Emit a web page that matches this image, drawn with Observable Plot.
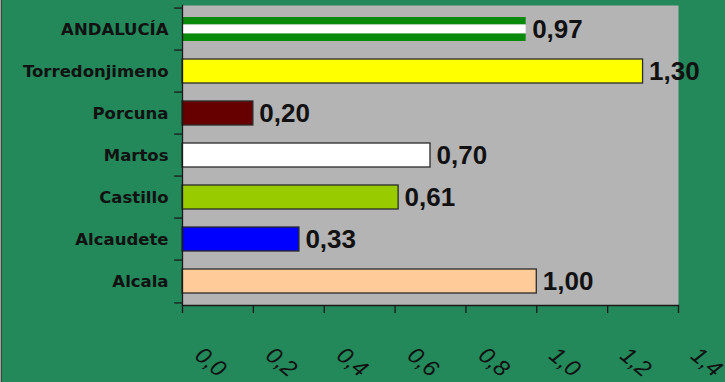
<!DOCTYPE html>
<html>
<head>
<meta charset="utf-8">
<script src="https://cdn.jsdelivr.net/npm/d3@7"></script>
<script src="https://cdn.jsdelivr.net/npm/@observablehq/plot@0.6"></script>
<style>
  html, body { margin: 0; padding: 0; background: #23885a; }
  #chart { position: relative; width: 725px; height: 382px; overflow: hidden; }
  #chart::before { content: ""; position: absolute; left: 0; top: 0; bottom: 0; width: 1px; background: #9aa59f; }
  #chart::after { content: ""; position: absolute; left: 1px; top: 0; bottom: 0; width: 1px; background: #3a4a42; }
  #chart svg { display: block; }
</style>
</head>
<body>
<div id="chart"></div>
<script>
// Municipalities, top to bottom
const places = ["ANDALUCÍA", "Torredonjimeno", "Porcuna", "Martos", "Castillo", "Alcaudete", "Alcala"];
const values = [0.97, 1.30, 0.20, 0.70, 0.61, 0.33, 1.00];
const fills  = ["#008000", "#ffff00", "#660000", "#ffffff", "#99cc00", "#0000ff", "#ffcc99"];
const xTicks = [0, 0.2, 0.4, 0.6, 0.8, 1.0, 1.2, 1.4];

const rows = places.map((p, i) => ({place: p, value: values[i], fill: fills[i]}));
const region = rows.filter(d => d.place === "ANDALUCÍA");
const towns = rows.filter(d => d.place !== "ANDALUCÍA");
const comma = d => d.toFixed(1).replace(".", ",");
const valueFmt = d => d.toFixed(2).replace(".", ",");

const step = (382 - 5 - 77) / places.length; // band step in px

const chart = Plot.plot({
  width: 725,
  height: 382,
  marginLeft: 182,
  marginRight: 47,
  marginTop: 5,
  marginBottom: 77,
  style: {background: "#23885a", overflow: "visible"},
  x: {domain: [0, 1.4], axis: null},
  y: {domain: places, paddingInner: 0.44, paddingOuter: 0.22, axis: null},
  marks: [
    Plot.frame({fill: "#b4b4b4"}),
    // regional flag-striped bar
    Plot.barX(region, {x: "value", y: "place", fill: "#0a8a0a", insetBottom: 16.5}),
    Plot.barX(region, {x: "value", y: "place", fill: "#ffffff", insetTop: 7.5, insetBottom: 7.5}),
    Plot.barX(region, {x: "value", y: "place", fill: "#0a8a0a", insetTop: 16.5}),
    // town bars
    Plot.barX(towns, {x: "value", y: "place", fill: "fill", stroke: "#2a2a2a", strokeWidth: 1.3}),
    // value labels
    Plot.text(rows, {
      x: "value", y: "place", text: d => valueFmt(d.value),
      dx: 6, textAnchor: "start", fontSize: 26, fontWeight: "bold", letterSpacing: "1.8px",
      fontFamily: "Liberation Sans, Arial, sans-serif", fill: "#111"
    }),
    // category labels
    Plot.text(places, {
      y: d => d, frameAnchor: "left", dx: -14, textAnchor: "end",
      fontSize: 16.5, fontWeight: "bold", letterSpacing: "2.8px",
      fontFamily: "DejaVu Sans, Verdana, sans-serif", fill: "#111"
    }),
    // axis lines
    Plot.frame({anchor: "left", stroke: "#1a1a1a", strokeWidth: 1.3}),
    Plot.frame({anchor: "bottom", stroke: "#1a1a1a", strokeWidth: 1.3}),
    // y ticks on band boundaries
    Plot.ruleY(places, {y: d => d, x1: -0.022, x2: 0, dy: -step / 2, stroke: "#1a1a1a", strokeWidth: 1.3}),
    Plot.ruleY(places.slice(-1), {y: d => d, x1: -0.022, x2: 0, dy: step / 2, stroke: "#1a1a1a", strokeWidth: 1.3}),
    // x ticks and rotated labels
    Plot.axisX({ticks: xTicks, tickSize: 8, tickFormat: () => "", label: null, stroke: "#1a1a1a", strokeWidth: 1.3}),
    Plot.text(xTicks, {
      x: d => d, frameAnchor: "bottom", text: comma,
      rotate: 40, textAnchor: "start", dx: 11, dy: 52,
      fontSize: 23, fontStyle: "italic", letterSpacing: "1.5px",
      fontFamily: "Liberation Sans, Arial, sans-serif", fill: "#111"
    })
  ]
});
document.getElementById("chart").append(chart);
</script>
</body>
</html>
